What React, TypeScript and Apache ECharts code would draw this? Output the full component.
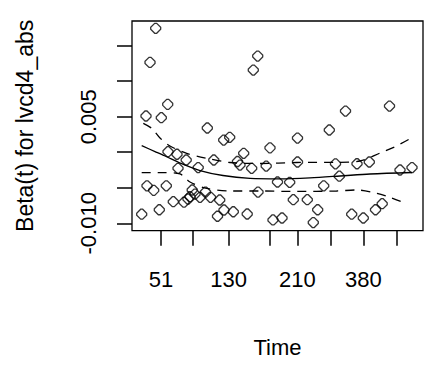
import React, { useEffect, useRef } from "react";
import * as echarts from "echarts";

// transformed time (km scale) positions of the axis ticks and their time labels
const xTickPositions = [0.0997, 0.2086, 0.3323, 0.4718, 0.568, 0.6828, 0.7948, 0.9096];
const xLabelPositions = [0.0997, 0.3323, 0.568, 0.7948];
const xLabels = ["51", "130", "210", "380"];
const yTickValues = [-0.01, -0.005, 0, 0.005, 0.01, 0.015];
const yLabelValues = [-0.01, 0.005];

// scaled Schoenfeld residuals
const residX = [
  0.0814, 0.0619, 0.0481, 0.1007, 0.1227, 0.432, 0.4168, 0.2588, 0.3151, 0.3357, 0.4742, 0.5687, 0.678, 0.7337, 0.8849,
  0.1237, 0.1546, 0.1863, 0.1581, 0.2275, 0.2811, 0.3625, 0.3838, 0.3711, 0.4113, 0.4612, 0.5687, 0.6993, 0.7732, 0.8155, 0.921, 0.9622, 0.7124,
  0.5, 0.5419, 0.6588, 0.0515, 0.0746, 0.1179, 0.2069, 0.1993, 0.2337, 0.2526, 0.2698, 0.3014, 0.1419, 0.1787, 0.2165, 0.1924, 0.433, 0.5543, 0.6024,
  0.0333, 0.0938, 0.2938, 0.3162, 0.3481, 0.3959, 0.4845, 0.5155, 0.623, 0.6381, 0.755, 0.7948, 0.8368, 0.8598,
];
const residY = [
  0.01744, 0.01265, 0.0051, 0.00486, 0.00674, 0.01354, 0.01157, 0.00341, 0.00172, 0.0021, 0.00062, 0.002, 0.00313, 0.0058, 0.0065,
  0.00008, -0.00028, -0.00109, -0.00226, -0.00215, -0.00109, -0.0013, -0.00015, -0.0018, -0.00226, -0.00194, -0.00137, -0.00163, -0.00162, -0.00137, -0.0025, -0.00215, -0.00337,
  -0.00419, -0.00423, -0.00472, -0.00472, -0.00536, -0.00472, -0.00531, -0.00626, -0.00634, -0.0056, -0.00634, -0.00672, -0.00696, -0.00703, -0.00588, -0.00658, -0.0056, -0.00668, -0.00668,
  -0.00872, -0.00809, -0.00901, -0.00813, -0.00837, -0.00869, -0.00953, -0.00925, -0.00989, -0.00809, -0.00872, -0.00925, -0.00809, -0.00724,
];

// smoothed fit
const fitX = [0.0333, 0.079, 0.1192, 0.165, 0.2337, 0.3127, 0.4055, 0.5086, 0.6117, 0.7148, 0.8179, 0.9622];
const fitY = [0.00092, 0.0001, -0.00063, -0.00151, -0.00257, -0.00327, -0.00367, -0.00374, -0.0036, -0.00334, -0.00306, -0.00285];

// confidence bands
const upperX = [0.0388, 0.0677, 0.0962, 0.1306, 0.188, 0.2567, 0.3368, 0.4399, 0.566, 0.7034, 0.7835, 0.8522, 0.9038, 0.9656];
const upperY = [0.00407, 0.00337, 0.002, 0.00088, -0.00015, -0.00085, -0.00144, -0.00158, -0.00144, -0.00142, -0.00123, -0.00011, 0.00078, 0.00214];
const lowerX = [0.0333, 0.1134, 0.165, 0.1993, 0.2567, 0.3368, 0.4399, 0.566, 0.7034, 0.7722, 0.8409, 0.8866, 0.945];
const lowerY = [-0.00288, -0.00288, -0.00306, -0.00419, -0.0051, -0.00545, -0.00545, -0.00552, -0.00545, -0.00531, -0.00578, -0.00634, -0.00728];

const FONT = "Liberation Sans, Arial, sans-serif";
const MARKER = "path://M4,0 L6,0 L10,4 L10,6 L6,10 L4,10 L0,6 L0,4 Z";

export default function App() {
  const ref = useRef<HTMLDivElement>(null);
  useEffect(() => {
    if (!ref.current) return;
    const chart = echarts.init(ref.current, null, { renderer: "svg" });
    const zip = (xs: number[], ys: number[]) => xs.map((x, i) => [x, ys[i]]);
    chart.setOption({
      animation: false,
      backgroundColor: "#ffffff",
      grid: {
        left: 132,
        top: 21,
        width: 291,
        height: 209.7,
        show: true,
        borderColor: "#000",
        borderWidth: 1.3,
        backgroundColor: "transparent",
      },
      xAxis: {
        type: "value",
        min: 0,
        max: 1,
        splitLine: { show: false },
        axisLine: { show: false, onZero: false },
        axisTick: {
          show: true,
          length: 15,
          customValues: xTickPositions,
          lineStyle: { color: "#000", width: 1.5 },
        },
        axisLabel: {
          customValues: xLabelPositions,
          formatter: (v: number) => {
            const i = xLabelPositions.findIndex((p) => Math.abs(p - v) < 1e-6);
            return i >= 0 ? xLabels[i] : "";
          },
          fontSize: 22,
          fontFamily: FONT,
          color: "#000",
          margin: 38,
        },
        name: "Time",
        nameLocation: "middle",
        nameGap: 106,
        nameTextStyle: { fontSize: 22, fontFamily: FONT, color: "#000" },
      },
      yAxis: {
        type: "value",
        min: -0.01104,
        max: 0.01847,
        splitLine: { show: false },
        axisLine: { show: false, onZero: false },
        axisTick: {
          show: true,
          length: 15,
          customValues: yTickValues,
          lineStyle: { color: "#000", width: 1.5 },
        },
        axisLabel: {
          customValues: yLabelValues,
          formatter: (v: number) => v.toFixed(3),
          rotate: 90,
          fontSize: 22,
          fontFamily: FONT,
          color: "#000",
          margin: 33,
        },
        name: "Beta(t) for lvcd4_abs",
        nameLocation: "middle",
        nameRotate: 90,
        nameGap: 96,
        nameTextStyle: { fontSize: 23, fontFamily: FONT, color: "#000" },
      },
      series: [
        {
          type: "scatter",
          data: zip(residX, residY),
          symbol: MARKER,
          symbolSize: 10,
          itemStyle: { color: "rgba(0,0,0,0)", borderColor: "#000", borderWidth: 1.3 },
          z: 3,
        },
        {
          type: "line",
          data: zip(fitX, fitY),
          smooth: 0.3,
          symbol: "none",
          lineStyle: { color: "#000", width: 1.3 },
        },
        {
          type: "line",
          data: zip(upperX, upperY),
          smooth: 0.3,
          symbol: "none",
          lineStyle: { color: "#000", width: 1.3, type: [9, 7] },
        },
        {
          type: "line",
          data: zip(lowerX, lowerY),
          smooth: 0.3,
          symbol: "none",
          lineStyle: { color: "#000", width: 1.3, type: [9, 7] },
        },
      ],
    });
    return () => chart.dispose();
  }, []);
  return (
    <div
      ref={ref}
      style={{ position: "fixed", left: 0, top: 0, width: 424, height: 365, background: "#fff" }}
    />
  );
}
